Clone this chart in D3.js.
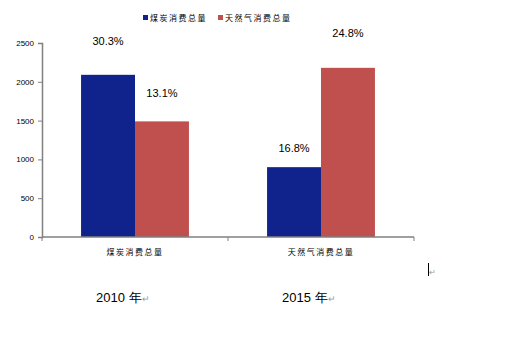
<!DOCTYPE html>
<html>
<head>
<meta charset="utf-8">
<script src="https://cdn.jsdelivr.net/npm/d3@7"></script>
<style>
  html, body { margin: 0; padding: 0; background: #fff; }
  svg { display: block; }
</style>
</head>
<body>
<svg id="chart" width="514" height="340"></svg>
<script>
// Energy consumption totals, 2010 vs 2015
const categories = ["煤炭消费总量", "天然气消费总量"];
const seriesNames = ["煤炭消费总量", "天然气消费总量"];
const coalValues = [2090, 900];
const gasValues = [1490, 2180];
const coalLabels = ["30.3%", "16.8%"];
const gasLabels = ["13.1%", "24.8%"];
const yTicks = [0, 500, 1000, 1500, 2000, 2500];
const yearLabels = ["2010 年", "2015 年"];

const colors = ["#10238c", "#c0504d"];
const svg = d3.select("#chart");

const x = d3.scaleBand().domain(categories).range([42, 414])
  .paddingInner(0.42).paddingOuter(0.21);
const xs = d3.scaleBand().domain([0, 1]).range([0, x.bandwidth()]);
const y = d3.scaleLinear().domain([0, 2500]).range([237, 43]);

const series = [
  { name: seriesNames[0], values: coalValues, labels: coalLabels, color: colors[0], lift: [34, 19] },
  { name: seriesNames[1], values: gasValues, labels: gasLabels, color: colors[1], lift: [28, 35] }
];

// bars and their growth labels
series.forEach((s, si) => {
  svg.append("g").selectAll("rect")
    .data(categories)
    .join("rect")
    .attr("x", c => x(c) + xs(si))
    .attr("width", xs.bandwidth())
    .attr("y", (c, i) => y(s.values[i]))
    .attr("height", (c, i) => y(0) - y(s.values[i]))
    .attr("fill", s.color);

  svg.append("g").selectAll("text")
    .data(categories)
    .join("text")
    .attr("x", c => x(c) + xs(si) + xs.bandwidth() / 2)
    .attr("y", (c, i) => y(s.values[i]) - s.lift[i])
    .attr("dy", "0.35em")
    .attr("text-anchor", "middle")
    .attr("font-family", "Liberation Sans, Arial, sans-serif")
    .attr("font-size", 11)
    .attr("fill", "#000")
    .text((c, i) => s.labels[i]);
});

// y axis
const yAxis = svg.append("g")
  .attr("transform", "translate(42,0)")
  .call(d3.axisLeft(y).tickValues(yTicks).tickSize(4).tickPadding(4).tickFormat(d3.format("d")));
yAxis.select(".domain").attr("stroke", "#808080").attr("stroke-width", 1.5);
yAxis.selectAll(".tick line").attr("stroke", "#808080");
yAxis.selectAll(".tick text")
  .attr("font-family", "Liberation Sans, Arial, sans-serif")
  .attr("font-size", 8)
  .attr("fill", "#000");

// x axis with ticks at the category boundaries
const xAxisG = svg.append("g").attr("transform", "translate(0,237)");
xAxisG.append("line")
  .attr("x1", 42).attr("x2", 414)
  .attr("stroke", "#808080").attr("stroke-width", 1.5);
const edges = [42, (42 + 414) / 2, 414];
xAxisG.selectAll(".xt").data(edges).join("line")
  .attr("x1", d => d).attr("x2", d => d)
  .attr("y1", 0).attr("y2", 4)
  .attr("stroke", "#808080");
xAxisG.selectAll(".xl").data(categories).join("text")
  .attr("x", c => x(c) + x.bandwidth() / 2)
  .attr("y", 18)
  .attr("text-anchor", "middle")
  .attr("font-family", "Noto Sans CJK SC, sans-serif")
  .attr("font-size", 8)
  .attr("letter-spacing", 1.5)
  .attr("fill", "#000")
  .text(c => c);

// legend
const legend = svg.append("g").attr("transform", "translate(143,14)");
const lx = [0, 75];
seriesNames.forEach((n, i) => {
  legend.append("rect").attr("x", lx[i]).attr("y", 1)
    .attr("width", 5).attr("height", 5).attr("fill", colors[i]);
  legend.append("text").attr("x", lx[i] + 7).attr("y", 7)
    .attr("font-family", "Noto Sans CJK SC, sans-serif")
    .attr("font-size", 8).attr("letter-spacing", 1.5)
    .attr("fill", "#000").text(n);
});

// year captions below the chart
const yearG = svg.append("g");
yearLabels.forEach((t, i) => {
  const cx = [96, 282][i];
  const txt = yearG.append("text").attr("x", cx).attr("y", 302)
    .attr("font-family", "Liberation Sans, Arial, sans-serif")
    .attr("font-size", 13).attr("fill", "#000");
  txt.append("tspan").text(t);
  txt.append("tspan").attr("font-size", 9).attr("fill", "#999").text("↵");
});

// text cursor mark
svg.append("line").attr("x1", 428.5).attr("x2", 428.5).attr("y1", 263).attr("y2", 276)
  .attr("stroke", "#000").attr("stroke-width", 1);
svg.append("text").attr("x", 429).attr("y", 275)
  .attr("font-family", "Liberation Sans, Arial, sans-serif")
  .attr("font-size", 8).attr("fill", "#999").text("↵");
</script>
</body>
</html>
